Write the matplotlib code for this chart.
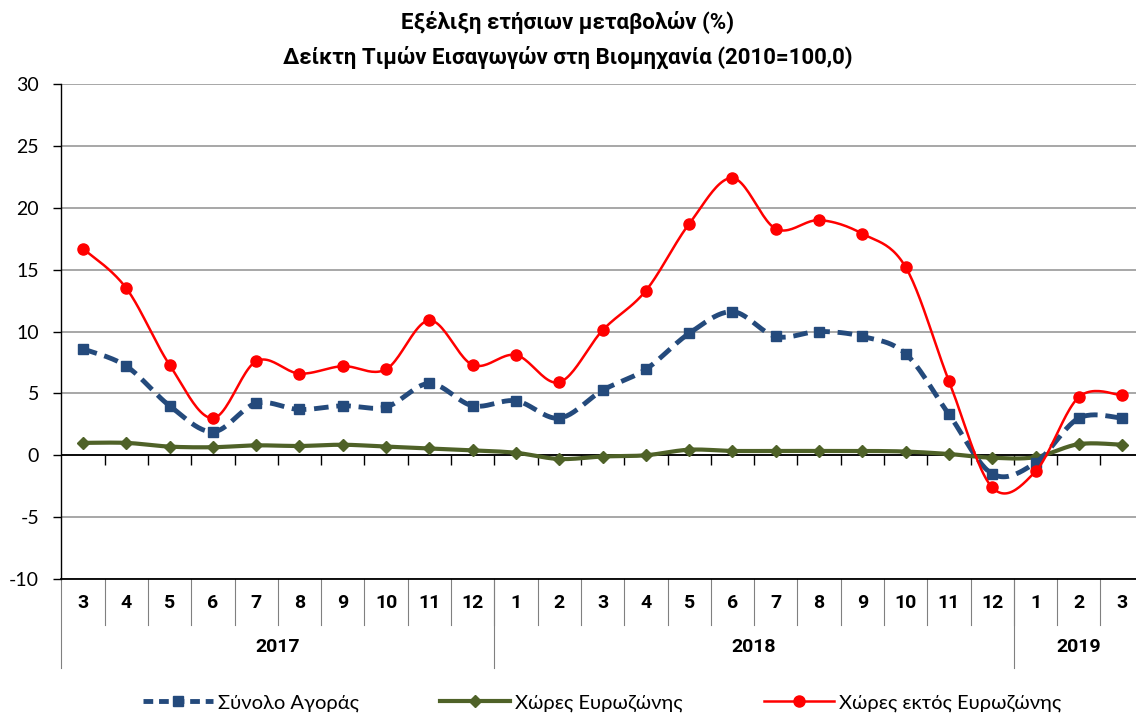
import matplotlib
matplotlib.use('Agg')
from matplotlib import pyplot as plt
from matplotlib.lines import Line2D
import matplotlib.transforms as mtransforms
import numpy as np

plt.rcParams['font.family'] = ['Lato', 'DejaVu Sans']
plt.rcParams['axes.unicode_minus'] = False
BOLD = ['Roboto', 'DejaVu Sans']

months = ['3', '4', '5', '6', '7', '8', '9', '10', '11', '12',
          '1', '2', '3', '4', '5', '6', '7', '8', '9', '10', '11', '12',
          '1', '2', '3']
years = ['2017', '2018', '2019']
year_counts = [10, 12, 3]

total = [8.6, 7.2, 4.0, 1.9, 4.2, 3.7, 4.0, 3.9, 5.8, 4.0,
         4.4, 3.0, 5.25, 6.95, 9.85, 11.6, 9.6, 10.0, 9.6, 8.2, 3.3, -1.5,
         -0.6, 3.0, 3.0]
euro = [1.0, 1.0, 0.7, 0.65, 0.8, 0.75, 0.85, 0.7, 0.55, 0.4,
        0.2, -0.3, -0.1, 0.0, 0.45, 0.35, 0.35, 0.35, 0.35, 0.3, 0.1, -0.2,
        -0.15, 0.9, 0.85]
non_euro = [16.7, 13.5, 7.3, 3.0, 7.6, 6.6, 7.2, 6.95, 10.9, 7.3,
            8.1, 5.9, 10.1, 13.3, 18.7, 22.4, 18.3, 19.0, 17.9, 15.2, 6.0, -2.6,
            -1.3, 4.7, 4.85]


def smooth(y, n=24):
    # Catmull-Rom curve through the points, like Excel's smoothed lines
    x = np.arange(len(y), dtype=float)
    p = np.column_stack([x, y])
    p = np.vstack([p[0], p, p[-1]])
    out = []
    t = np.linspace(0, 1, n, endpoint=False)[:, None]
    for i in range(1, len(p) - 2):
        p0, p1, p2, p3 = p[i - 1], p[i], p[i + 1], p[i + 2]
        seg = 0.5 * (2 * p1 + (-p0 + p2) * t + (2 * p0 - 5 * p1 + 4 * p2 - p3) * t ** 2
                     + (-p0 + 3 * p1 - 3 * p2 + p3) * t ** 3)
        out.append(seg)
    out.append(p[-2][None, :])
    out = np.vstack(out)
    return out[:, 0], out[:, 1]


fig = plt.figure(figsize=(11.36, 7.16), dpi=100)
ax = fig.add_axes([0.054, 0.1913, 0.946, 0.6914])

x = np.arange(len(months))
blue = '#244A7C'
green = '#4F6228'
red = '#FF0000'

sx, sy = smooth(euro)
ax.plot(sx, sy, color=green, lw=3, zorder=3)
ax.plot(x, euro, ls='none', marker='D', ms=6, color=green, zorder=4)

sx, sy = smooth(total)
ax.plot(sx, sy, color=blue, lw=3.5, dashes=(3, 1.6), zorder=5)
ax.plot(x, total, ls='none', marker='s', ms=7.5, color=blue, zorder=6)

sx, sy = smooth(non_euro)
ax.plot(sx, sy, color=red, lw=1.8, zorder=7)
ax.plot(x, non_euro, ls='none', marker='o', ms=8, color=red, zorder=8)

ax.set_ylim(-10, 30)
ax.set_xlim(-0.5, 24.32)
ax.set_yticks(np.arange(-10, 31, 5))
ax.yaxis.grid(True, color='#A0A0A0', lw=1.3)
ax.set_axisbelow(True)
ax.tick_params(axis='y', labelsize=14, length=6, width=1, pad=10)
ax.set_xticks([])
for s in ['top', 'right']:
    ax.spines[s].set_visible(False)
ax.spines['left'].set_linewidth(1)
ax.spines['bottom'].set_linewidth(1.3)

# zero line with small ticks between categories
ax.axhline(0, color='black', lw=1.3, zorder=2)
ax.vlines(np.arange(len(months) - 1) + 0.5, -0.8, 0, color='black', lw=1, zorder=2)

# category table under the axis
trans = mtransforms.blended_transform_factory(ax.transData, ax.transAxes)
row1 = -0.093
row2 = -0.18
for i in range(len(months) - 1):
    ax.add_line(Line2D([i + 0.5, i + 0.5], [0, row1], transform=trans, color='#808080',
                       lw=0.8, clip_on=False))
ax.add_line(Line2D([-0.5, -0.5], [0, row2], transform=trans, color='#808080',
                   lw=0.8, clip_on=False))
start = 0
for yr, cnt in zip(years, year_counts):
    end = start + cnt
    if end < len(months):
        ax.add_line(Line2D([end - 0.5, end - 0.5], [0, row2], transform=trans,
                           color='#808080', lw=0.8, clip_on=False))
    ax.text((start + end - 1) / 2, -0.137, yr, transform=trans, ha='center', va='center',
            fontsize=14, fontweight='bold', family=BOLD)
    start = end
for i, m in enumerate(months):
    ax.text(i, -0.048, m, transform=trans, ha='center', va='center',
            fontsize=14, fontweight='bold', family=BOLD)

fig.text(0.5, 0.969, 'Εξέλιξη ετήσιων μεταβολών (%)', ha='center', va='center',
         fontsize=16, fontweight='bold', family=BOLD)
fig.text(0.5, 0.92, 'Δείκτη Τιμών Εισαγωγών στη Βιομηχανία (2010=100,0)', ha='center',
         va='center', fontsize=16, fontweight='bold', family=BOLD)

handles = [
    Line2D([], [], color=blue, lw=3.5, dashes=(2, 1.2), marker='s', ms=7.5),
    Line2D([], [], color=green, lw=3, marker='D', ms=6),
    Line2D([], [], color=red, lw=1.8, marker='o', ms=8),
]
labels = ['Σύνολο Αγοράς', 'Χώρες Ευρωζώνης', 'Χώρες εκτός Ευρωζώνης']
fig.legend(handles, labels, loc='center', bbox_to_anchor=(0.53, 0.018), ncol=3,
           frameon=False, fontsize=14.5, handlelength=3.5, columnspacing=4,
           handletextpad=0.25)

fig.savefig('out.png', dpi=100)
